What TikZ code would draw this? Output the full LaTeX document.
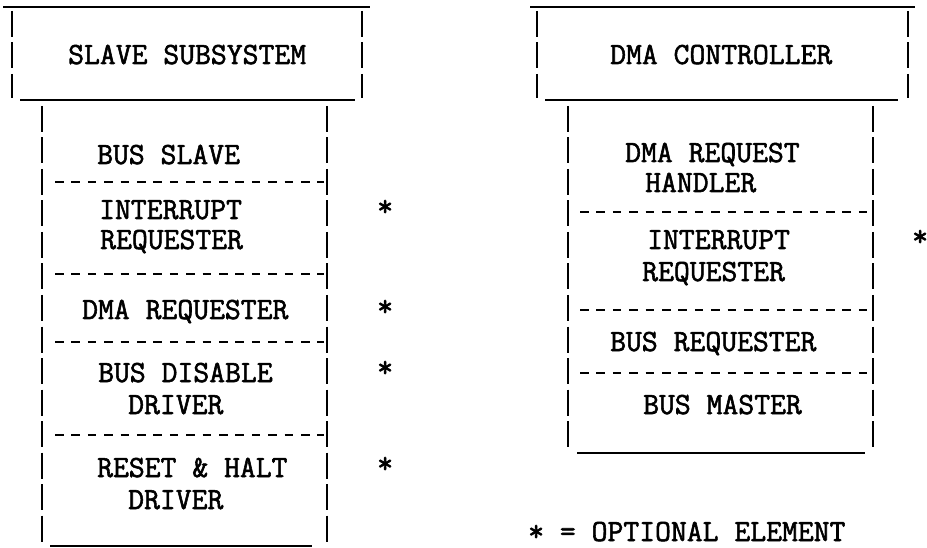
\documentclass[tikz,border=0pt]{standalone}
\usepackage{fontspec}
\newfontfamily\tyf{Latin Modern Mono}[FakeBold=1.8]
\begin{document}
\begin{tikzpicture}[x=1pt,y=-1pt,
 rule/.style={line width=1.6pt},
 bar/.style={line width=1.8pt, dash pattern=on 26pt off 5.5pt},
 hy/.style={line width=1.5pt, dash pattern=on 8.5pt off 7.9pt},
 lbl/.style={anchor=base west, inner sep=0pt, font=\fontsize{30.8}{36}\selectfont\tyf}]
\useasboundingbox (0,0) rectangle (927,548);
% ---------- left: slave subsystem ----------
\draw[rule] (3,7) -- (370,7);
\draw[bar] (12,11) -- (12,98);
\draw[bar] (362,11) -- (362,98);
\draw[rule] (20,100) -- (355,100);
\node[lbl] (ss) at (68,64) {SLAVE SUBSYSTEM};
\draw[bar] (42,106) -- (42,546);
\draw[bar] (327,106) -- (327,546);
\draw[rule] (50,546) -- (312,546);
\node[lbl] (bs) at (97,164) {BUS SLAVE};
\draw[hy] (55,182) -- (324,182);
\node[lbl] (ir1) at (99,219) {INTERRUPT};
\node[lbl] (ir2) at (100,249) {REQUESTER};
\draw[hy] (55,274) -- (324,274);
\node[lbl] (dr) at (82,319) {DMA REQUESTER};
\draw[hy] (55,342) -- (324,342);
\node[lbl] (bd1) at (98,382) {BUS DISABLE};
\node[lbl] (bd2) at (128,414) {DRIVER};
\draw[hy] (55,435) -- (324,435);
\node[lbl] (rh1) at (97,477) {RESET \& HALT};
\node[lbl] (rh2) at (128,509) {DRIVER};
\node[lbl] (a1) at (377,216) {*};
\node[lbl] (a2) at (377,316) {*};
\node[lbl] (a3) at (377,377) {*};
\node[lbl] (a4) at (377,473) {*};
% ---------- right: DMA controller ----------
\draw[rule] (530,7) -- (915,7);
\draw[bar] (537,11) -- (537,98);
\draw[bar] (908,11) -- (908,98);
\draw[rule] (545,100) -- (898,100);
\node[lbl] (dc) at (610,64) {DMA CONTROLLER};
\draw[bar] (568,106) -- (568,452);
\draw[bar] (873,106) -- (873,452);
\draw[rule] (577,453) -- (865,453);
\node[lbl] (dh1) at (625,162) {DMA REQUEST};
\node[lbl] (dh2) at (645,192) {HANDLER};
\draw[hy] (580,212) -- (870,212);
\node[lbl] (ri1) at (647,249) {INTERRUPT};
\node[lbl] (ri2) at (642,281) {REQUESTER};
\draw[hy] (580,310) -- (870,310);
\node[lbl] (br) at (610,351) {BUS REQUESTER};
\draw[hy] (580,373) -- (870,373);
\node[lbl] (bm) at (643,414) {BUS MASTER};
\node[lbl] (a5) at (912,246) {*};
\node[lbl] (leg) at (528,541) {* = OPTIONAL ELEMENT};
\end{tikzpicture}
\end{document}
